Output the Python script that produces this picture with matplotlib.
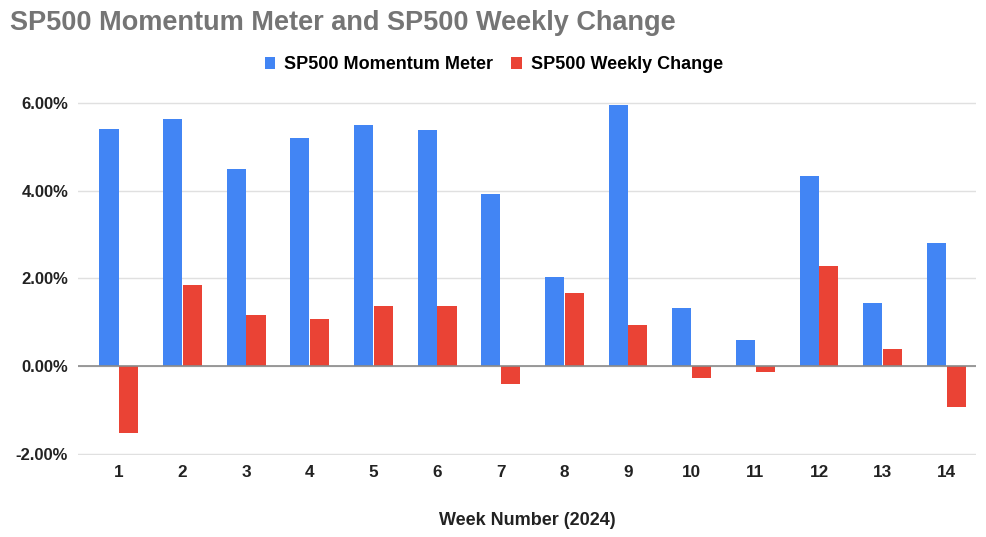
import numpy as np
import matplotlib.pyplot as plt
from matplotlib.ticker import FuncFormatter

plt.rcParams['font.family'] = ['Liberation Sans', 'DejaVu Sans']

weeks = [str(i) for i in range(1, 15)]
momentum_meter = [5.40, 5.63, 4.50, 5.21, 5.51, 5.38, 3.93, 2.04, 5.96, 1.32, 0.60, 4.34, 1.45, 2.80]
weekly_change = [-1.52, 1.85, 1.16, 1.07, 1.37, 1.37, -0.40, 1.68, 0.94, -0.26, -0.13, 2.28, 0.40, -0.94]

blue = '#4285F4'
red = '#EA4335'

fig = plt.figure(figsize=(9.86, 5.37), dpi=100)
# axes spans -2.02 .. 6.02 so the outer gridlines are not clipped
ax = fig.add_axes([0.079, 0.1530, 0.911, 0.6568])

x = np.arange(1, len(weeks) + 1)
width = 0.30
ax.bar(x - 0.155, momentum_meter, width, color=blue, label='SP500 Momentum Meter', zorder=3)
ax.bar(x + 0.155, weekly_change, width, color=red, label='SP500 Weekly Change', zorder=3)

ax.set_xlim(0.356, 14.47)
ax.set_ylim(-2.02, 6.02)
ax.set_yticks([-2, 0, 2, 4, 6])
ax.yaxis.set_major_formatter(FuncFormatter(lambda v, p: f'{v:.2f}%'))
ax.set_xticks(x)
ax.set_xticklabels(weeks)

ax.grid(axis='y', color='#e0e0e0', linewidth=1, zorder=0)
ax.axhline(0, color='#8a8a8a', linewidth=1.2, zorder=4)
for s in ax.spines.values():
    s.set_visible(False)
ax.tick_params(axis='y', length=0, labelsize=12, pad=7)
ax.tick_params(axis='x', length=0, labelsize=12.3, pad=7)
for lbl in ax.get_xticklabels() + ax.get_yticklabels():
    lbl.set_fontweight('bold')
    lbl.set_color('#222222')

ax.set_xlabel('Week Number (2024)', fontsize=13, fontweight='bold', color='#222222', labelpad=23)

fig.text(0.010, 0.958, 'SP500 Momentum Meter and SP500 Weekly Change', fontsize=19.5,
         fontweight='bold', color='#757575', va='center', ha='left')

fig.legend(loc='center', bbox_to_anchor=(0.501, 0.879), ncol=2, frameon=False,
           prop={'size': 13, 'weight': 'bold'}, handlelength=0.6, handleheight=0.6,
           handletextpad=0.5, columnspacing=1.0)

fig.savefig('out.png', dpi=100)
